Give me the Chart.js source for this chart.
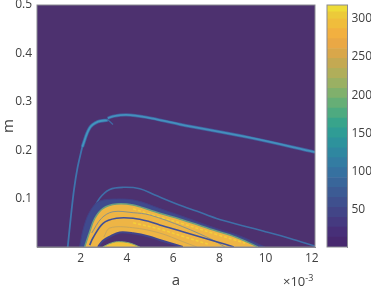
<!DOCTYPE html>
<html>
<head>
<meta charset="utf-8">
<script src="https://cdn.jsdelivr.net/npm/chart.js@4"></script>
<style>
  html, body { margin: 0; padding: 0; background: #fff; }
  #wrap { position: relative; width: 371px; height: 287px; overflow: hidden; }
  canvas { position: absolute; top: 0; filter: blur(0.4px); }
  #exponent { position: absolute; left: 283px; top: 272px; font: 13px "Open Sans", sans-serif; color: #404040; white-space: nowrap; }
  #exponent sup { font-size: 9px; line-height: 0; }
</style>
</head>
<body>
<div id="wrap">
  <canvas id="mapChart" style="left:0" width="371" height="287"></canvas>
  <canvas id="barChart" style="left:320px" width="51" height="287"></canvas>
  <div id="exponent">×10<sup>-3</sup></div>
</div>
<script>
// x values are in units of 10^-3
const xTicks = [2, 4, 6, 8, 10, 12];
const yTicks = [0.1, 0.2, 0.3, 0.4, 0.5];
const barTicks = [50, 100, 150, 200, 250, 300];

// upper ridge
const ridgeLowA = [1.44, 1.57, 1.71, 1.86, 2.07];
const ridgeLowM = [0, 0.06, 0.118, 0.163, 0.207];
const ridgeArchA = [2.07, 2.39, 2.75, 3.17];
const ridgeArchM = [0.207, 0.246, 0.259, 0.262];
const ridgeHighA = [3.17, 3.4, 3.98, 4.85, 6.29, 9.33, 12.14];
const ridgeHighM = [0.266, 0.27, 0.273, 0.268, 0.2535, 0.2258, 0.196];
const spikeA = [3.12, 3.22, 3.4];
const spikeM = [0.264, 0.261, 0.253];

// thin ridge above the band
const thinA = [2.17, 2.3, 2.46, 2.82, 3.26, 3.83, 4.56, 5.21, 6.42, 7.01, 7.88, 9.18, 9.89, 11.06, 12.14];
const thinM = [0, 0.031, 0.066, 0.1006, 0.119, 0.1233, 0.1205, 0.1074, 0.084, 0.0745, 0.059, 0.042, 0.033, 0.0176, 0.002];

// band outlines
const haloA = [1.95, 2.12, 2.38, 2.78, 3.55, 4.41, 5.42, 6.42, 7.88, 8.89, 9.98];
const haloM = [0, 0.039, 0.072, 0.094, 0.099, 0.096, 0.0795, 0.063, 0.038, 0.0227, 0];
const bandA = [2.17, 2.39, 2.61, 2.97, 3.55, 4.27, 4.99, 5.42, 6.42, 7.88, 8.46, 9.11, 9.67];
const bandM = [0, 0.0316, 0.0593, 0.08, 0.0888, 0.0868, 0.0764, 0.0696, 0.0558, 0.033, 0.0248, 0.0124, 0];
const domeA = [2.75, 2.95, 3.26, 3.69, 4.27, 4.99, 5.42, 6.42];
const domeM = [0, 0.0124, 0.0213, 0.03, 0.0283, 0.0213, 0.0145, 0];
const blobA = [2.95, 3.26, 3.6, 4.12, 4.56];
const blobM = [0, 0.0072, 0.011, 0.0083, 0];

// lines inside the band
const darkA = [2.39, 2.53, 2.97, 3.55, 4.27, 4.99, 5.42, 6.42, 7.88, 8.63];
const darkM = [0.004, 0.0186, 0.049, 0.0593, 0.0593, 0.0523, 0.0455, 0.0316, 0.011, 0];
const greyA = [2.48, 2.9, 3.4, 4.27, 4.99, 6.42, 7.72, 8.24];
const greyM = [0.029, 0.0593, 0.0729, 0.0709, 0.0661, 0.0419, 0.0145, 0];
const faintA = [3, 3.26, 4.25, 5.42, 6.42, 7.03];
const faintM = [0.0207, 0.0393, 0.0399, 0.0289, 0.011, 0];
const brightUpperA = [4.27, 5.42, 6.42, 7.88, 9.11];
const brightUpperM = [0.079, 0.0615, 0.048, 0.026, 0.008];
const brightLowerA = [4.27, 5.42, 6.42, 7.5];
const brightLowerM = [0.05, 0.037, 0.022, 0.006];

// colorbar levels, bottom to top
const barEdges = [1, 14, 27, 40, 53, 66, 79, 92, 105, 118, 131, 144, 157, 170, 183, 196, 209, 222, 235, 248, 261, 274, 287, 300, 309, 318];
const barColors = ['#47286f', '#472f78', '#453a80', '#424587', '#3f508e', '#3c5b94', '#39669a', '#3671a0', '#337ca2', '#2f87a0', '#2d929c', '#2f9c95', '#38a48b', '#4eaa80', '#66ae76', '#80b06c', '#9ab063', '#b0ae5a', '#c4a952', '#d9a74a', '#eaa845', '#f2b040', '#f0bd3c', '#ecca3a', '#eedc38'];

const purple = '#4d316f';
const axisGrey = '#8a8a92';
const textGrey = '#404040';
const tickFont = { family: '"Open Sans", sans-serif', size: 12 };

const toPoints = (xs, ys) => xs.map((x, i) => ({ x, y: ys[i] }));

function curve(xs, ys, color, width, extra) {
  return Object.assign({
    data: toPoints(xs, ys),
    borderColor: color,
    borderWidth: width,
    pointRadius: 0,
    tension: 0.35,
    fill: false
  }, extra);
}

// drawn in list order, first one at the back
const layers = [
  curve(ridgeLowA, ridgeLowM, '#3f74ad', 1.8),
  curve(ridgeArchA, ridgeArchM, '#3f62a2', 3.4),
  curve(ridgeArchA, ridgeArchM, '#4296bd', 1.8),
  curve(ridgeHighA, ridgeHighM, '#425f9e', 3.2),
  curve(ridgeHighA, ridgeHighM, '#4490bd', 1.8),
  curve(spikeA, spikeM, '#3f6aa5', 1.2),
  curve(thinA, thinM, '#3f6fa8', 1.6),
  curve(haloA, haloM, '#433f86', 1, { backgroundColor: '#3f4a8e', fill: 'origin' }),
  curve(bandA, bandM, '#6a9e80', 1.5, { backgroundColor: '#eeb545', fill: 'origin' }),
  curve(brightUpperA, brightUpperM, '#f4cf3a', 1.6, { borderDash: [3, 2] }),
  curve(brightLowerA, brightLowerM, '#f4cf3a', 1.6, { borderDash: [3, 2] }),
  curve(domeA, domeM, '#41448a', 2, { backgroundColor: purple, fill: 'origin' }),
  curve(blobA, blobM, '#7fa877', 1, { backgroundColor: '#f2c23c', fill: 'origin' }),
  curve(faintA, faintM, '#c9a65a', 1),
  curve(greyA, greyM, '#8a9288', 1),
  curve(darkA, darkM, '#3f4f98', 1.6)
];
layers.forEach((d, i) => { d.order = layers.length - i; });

// purple backdrop of the map
const mapBackdrop = {
  id: 'mapBackdrop',
  beforeDatasetsDraw(chart) {
    const a = chart.chartArea;
    chart.ctx.fillStyle = purple;
    chart.ctx.fillRect(a.left, a.top, a.right - a.left, a.bottom - a.top);
  }
};

// grey frame on all four sides
const boxOutline = {
  id: 'boxOutline',
  afterDraw(chart) {
    const a = chart.chartArea;
    chart.ctx.strokeStyle = axisGrey;
    chart.ctx.lineWidth = 1;
    chart.ctx.strokeRect(a.left, a.top, a.right - a.left, a.bottom - a.top);
  }
};

// keep the plot boxes where the figure has them, tick labels may overhang
function fitY(s, width) {
  s.width = width;
  s.paddingTop = 0;
  s.paddingBottom = 0;
}

new Chart(document.getElementById('mapChart'), {
  type: 'line',
  data: { datasets: layers },
  plugins: [mapBackdrop, boxOutline],
  options: {
    responsive: false,
    animation: false,
    layout: { padding: { left: 0, right: 56, top: 5, bottom: 0 } },
    plugins: { legend: { display: false }, tooltip: { enabled: false } },
    scales: {
      x: {
        type: 'linear',
        min: 0.11,
        max: 12.14,
        afterBuildTicks: s => { s.ticks = xTicks.map(value => ({ value })); },
        afterFit: s => { s.height = 40; s.paddingLeft = 0; s.paddingRight = 0; },
        grid: { drawOnChartArea: false, color: axisGrey, tickLength: -3 },
        border: { color: axisGrey },
        ticks: { color: textGrey, font: tickFont, padding: 7, maxRotation: 0, callback: v => String(v) },
        title: { display: true, text: 'a', color: textGrey, font: { family: tickFont.family, size: 15 }, padding: { top: 0, bottom: -3 } }
      },
      y: {
        min: 0,
        max: 0.5,
        afterBuildTicks: s => { s.ticks = yTicks.map(value => ({ value })); },
        afterFit: s => fitY(s, 37),
        grid: { drawOnChartArea: false, color: axisGrey, tickLength: -3 },
        border: { color: axisGrey },
        ticks: { color: textGrey, font: tickFont, padding: 8, callback: v => v.toFixed(1) },
        title: { display: true, text: 'm', color: textGrey, font: { family: tickFont.family, size: 15 }, padding: 0 }
      }
    }
  }
});

new Chart(document.getElementById('barChart'), {
  type: 'bar',
  data: {
    labels: [''],
    datasets: barColors.map((color, i) => ({
      data: [[barEdges[i], barEdges[i + 1]]],
      backgroundColor: color,
      borderWidth: 0,
      categoryPercentage: 1,
      barPercentage: 1
    }))
  },
  plugins: [boxOutline],
  options: {
    responsive: false,
    animation: false,
    layout: { padding: { left: 7, right: 0, top: 5, bottom: 40 } },
    plugins: { legend: { display: false }, tooltip: { enabled: false } },
    scales: {
      x: { stacked: true, display: false },
      y: {
        position: 'right',
        min: 1,
        max: 318,
        afterBuildTicks: s => { s.ticks = barTicks.map(value => ({ value })); },
        afterFit: s => fitY(s, 23.5),
        grid: { drawOnChartArea: false, color: axisGrey, tickLength: -3 },
        border: { color: axisGrey },
        ticks: { color: textGrey, font: tickFont, padding: 7 }
      }
    }
  }
});
</script>
</body>
</html>
